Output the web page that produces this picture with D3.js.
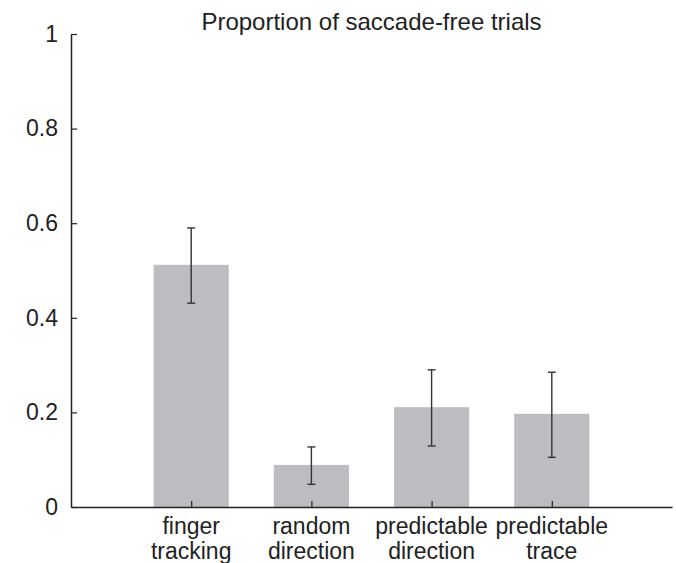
<!DOCTYPE html>
<html>
<head>
<meta charset="utf-8">
<script src="https://cdn.jsdelivr.net/npm/d3@7"></script>
<style>
  body { margin: 0; background: #fff; }
  text { font-family: "Liberation Sans", Arial, sans-serif; fill: #222; }
</style>
</head>
<body>
<div id="container"></div>
<script>
// data
var categories = [["finger", "tracking"], ["random", "direction"], ["predictable", "direction"], ["predictable", "trace"]];
var means = [0.512, 0.089, 0.211, 0.197];
var errLow = [0.431, 0.048, 0.129, 0.105];
var errHigh = [0.590, 0.127, 0.290, 0.285];
var yTicks = [0, 0.2, 0.4, 0.6, 0.8, 1];
var title = "Proportion of saccade-free trials";

var W = 676, H = 563,
    margin = {top: 34, right: 4, bottom: 56, left: 71},
    w = W - margin.left - margin.right,
    h = H - margin.top - margin.bottom,
    col = {bar: "#bcbdc1", err: "#333", axis: "#222"};

var svg = d3.select("#container")
    .append("svg")
    .attr("width", W)
    .attr("height", H)
    .append("g")
        .attr("transform", "translate(" + margin.left + "," + margin.top + ")");

var x = d3.scaleLinear().domain([0, 5]).range([0, w]);
var y = d3.scaleLinear().domain([0, 1]).range([h, 0]);
var barW = x(0.625) - x(0);

// bars
svg.selectAll(".bar")
    .data(means)
    .enter()
    .append("rect")
        .attr("class", "bar")
        .attr("x", function(d, i) { return x(i + 1) - barW / 2; })
        .attr("y", function(d) { return y(d); })
        .attr("width", barW)
        .attr("height", function(d) { return h - y(d); })
        .attr("fill", col.bar);

// error bars
var eb = svg.selectAll(".err")
    .data(means)
    .enter()
    .append("g")
        .attr("class", "err")
        .attr("stroke", col.err)
        .attr("stroke-width", 1.4);
eb.append("line")
    .attr("x1", function(d, i) { return x(i + 1); })
    .attr("x2", function(d, i) { return x(i + 1); })
    .attr("y1", function(d, i) { return y(errLow[i]); })
    .attr("y2", function(d, i) { return y(errHigh[i]); });
eb.append("line")
    .attr("x1", function(d, i) { return x(i + 1) - 4; })
    .attr("x2", function(d, i) { return x(i + 1) + 4; })
    .attr("y1", function(d, i) { return y(errLow[i]); })
    .attr("y2", function(d, i) { return y(errLow[i]); });
eb.append("line")
    .attr("x1", function(d, i) { return x(i + 1) - 4; })
    .attr("x2", function(d, i) { return x(i + 1) + 4; })
    .attr("y1", function(d, i) { return y(errHigh[i]); })
    .attr("y2", function(d, i) { return y(errHigh[i]); });

// Y axis (ticks inward)
var yAxis = svg.append("g")
    .call(d3.axisLeft(y).tickValues(yTicks).tickSizeInner(-6).tickSizeOuter(0).tickPadding(13)
        .tickFormat(function(d) { return d === 0 || d === 1 ? d : d3.format(".1f")(d); }));
// X axis (ticks inward)
var xAxis = svg.append("g")
    .attr("transform", "translate(0," + h + ")")
    .call(d3.axisBottom(x).tickValues([1, 2, 3, 4]).tickSizeInner(-6).tickSizeOuter(0).tickFormat(""));

svg.selectAll(".domain").attr("stroke", col.axis).attr("stroke-width", 1.5);
svg.selectAll(".tick line").attr("stroke", col.axis).attr("stroke-width", 1.2);
yAxis.selectAll("text")
    .style("font-size", "23px")
    .style("font-family", "Liberation Sans, Arial, sans-serif")
    .attr("fill", "#222");

// category labels
var lab = svg.selectAll(".cat")
    .data(categories)
    .enter()
    .append("text")
        .attr("class", "cat")
        .attr("text-anchor", "middle")
        .attr("x", function(d, i) { return x(i + 1); })
        .attr("y", h + 27)
        .style("font-size", "23px");
lab.append("tspan")
    .attr("x", function(d, i) { return x(i + 1); })
    .text(function(d) { return d[0]; });
lab.append("tspan")
    .attr("x", function(d, i) { return x(i + 1); })
    .attr("dy", 25)
    .text(function(d) { return d[1]; });

// title
svg.append("text")
    .attr("x", x(2.5))
    .attr("y", -4)
    .attr("text-anchor", "middle")
    .style("font-size", "24px")
    .text(title);
</script>
</body>
</html>
